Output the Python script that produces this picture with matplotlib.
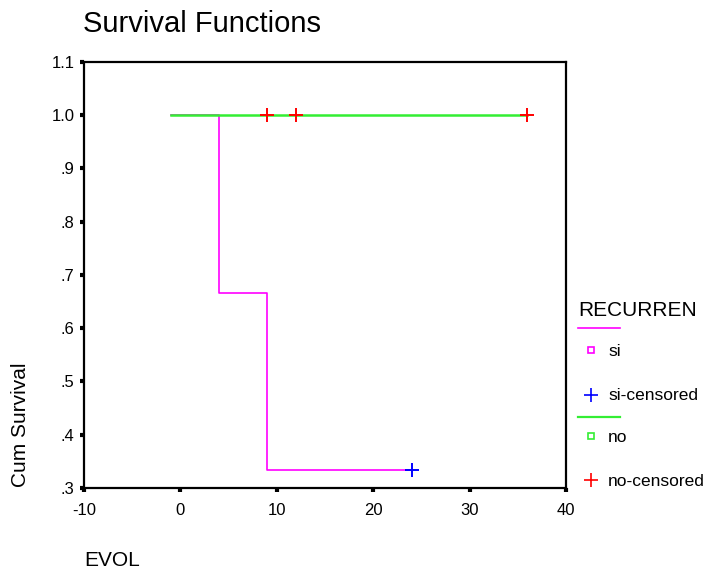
import numpy as np
import matplotlib
matplotlib.use('Agg')
import matplotlib.pyplot as plt
from matplotlib.lines import Line2D

plt.rcParams['font.family'] = ['Liberation Sans', 'DejaVu Sans']
plt.rcParams['axes.unicode_minus'] = False

# survival curves
si_time = [-1, 4, 9, 24]
si_surv = [1.0, 0.667, 0.333, 0.333]
si_cens_time = [24]
si_cens_surv = [0.333]

no_time = [-1, 36]
no_surv = [1.0, 1.0]
no_cens_time = [9, 12, 36]
no_cens_surv = [1.0, 1.0, 1.0]

xticks = [-10, 0, 10, 20, 30, 40]
xtick_labels = ['-10', '0', '10', '20', '30', '40']
yticks = [0.3, 0.4, 0.5, 0.6, 0.7, 0.8, 0.9, 1.0, 1.1]
ytick_labels = ['.3', '.4', '.5', '.6', '.7', '.8', '.9', '1.0', '1.1']

W, H = 708, 572
fig = plt.figure(figsize=(W / 100, H / 100), dpi=100)
ax = fig.add_axes([84 / W, 1 - 488 / H, (566 - 84) / W, (488 - 62) / H])

ax.plot(si_time, si_surv, drawstyle='steps-post', color='#ff00ff', lw=1.2)
ax.plot(no_time, no_surv, drawstyle='steps-post', color='#33ee33', lw=1.8)
ax.plot(si_cens_time, si_cens_surv, '+', color='#0000ff', ms=10, mew=1.4)
ax.plot(no_cens_time, no_cens_surv, '+', color='#ff0000', ms=10, mew=1.4)

ax.set_xlim(-10, 40)
ax.set_ylim(0.3, 1.1)
ax.set_xticks(xticks)
ax.set_xticklabels(xtick_labels)
ax.set_yticks(yticks)
ax.set_yticklabels(ytick_labels)
ax.tick_params(direction='out', length=3, width=3, labelsize=12, pad=4)
ax.tick_params(axis='x', pad=8)
for s in ax.spines.values():
    s.set_linewidth(1.6)

fig.text(83 / W, 1 - 24 / H, 'Survival Functions', fontsize=21, va='center', ha='left')
fig.text(21 / W, 1 - 487 / H, 'Cum Survival', fontsize=15, rotation=90, va='bottom', ha='center')
fig.text(84 / W, 1 - 560 / H, 'EVOL', fontsize=15, va='center', ha='left')

# legend, drawn by hand in SPSS style
def fx(x):
    return x / W

def fy(y):
    return 1 - y / H

fig.text(fx(578), fy(310), 'RECURREN', fontsize=15, va='center', ha='left')
fig.add_artist(Line2D([fx(578), fx(620)], [fy(328), fy(328)], color='#ff00ff', lw=1.2))
fig.add_artist(Line2D([fx(591)], [fy(350)], marker='s', ms=5, mfc='none', mec='#ff00ff', mew=1.2))
fig.text(fx(608), fy(351), 'si', fontsize=12.5, va='center', ha='left')
fig.add_artist(Line2D([fx(591)], [fy(395)], marker='+', ms=10, color='#0000ff', mew=1.2))
fig.text(fx(608), fy(396), 'si-censored', fontsize=12.5, va='center', ha='left')
fig.add_artist(Line2D([fx(578), fx(620)], [fy(417), fy(417)], color='#33ee33', lw=1.6))
fig.add_artist(Line2D([fx(591)], [fy(436)], marker='s', ms=5, mfc='none', mec='#33ee33', mew=1.2))
fig.text(fx(608), fy(437), 'no', fontsize=12.5, va='center', ha='left')
fig.add_artist(Line2D([fx(591)], [fy(480)], marker='+', ms=10, color='#ff0000', mew=1.2))
fig.text(fx(608), fy(481), 'no-censored', fontsize=12.5, va='center', ha='left')

fig.savefig('out.png', dpi=100)
